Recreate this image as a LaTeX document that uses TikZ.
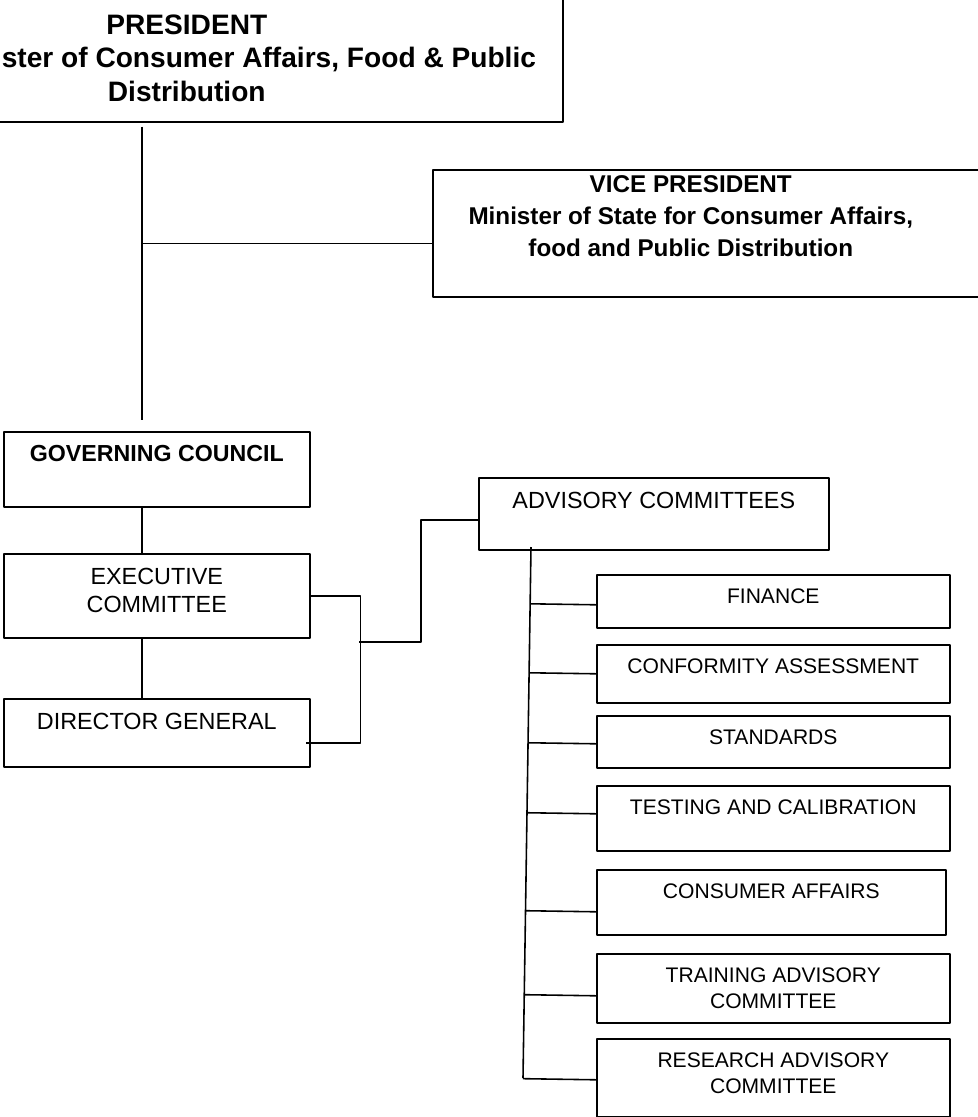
\documentclass[tikz,border=0pt]{standalone}
\usepackage{fontspec}
\setmainfont{Liberation Sans}
\usepackage{tikz}
\usetikzlibrary{calc}
\newcommand\pxu{0.02cm}
\tikzset{box/.style n args={2}{draw, anchor=north west, inner sep=0pt, minimum width=#1*\pxu, minimum height=#2*\pxu}}
\tikzset{t/.style={anchor=north, align=center, inner sep=0pt, yshift=-14*\pxu}}
\tikzset{top/.style={font=\bfseries\fontsize{16}{19}\selectfont}}
\tikzset{big/.style={font=\bfseries\fontsize{13.8}{18.1}\selectfont}}
\tikzset{gcf/.style={font=\bfseries\fontsize{13.2}{16}\selectfont}}
\tikzset{mid/.style={font=\fontsize{13.3}{15.9}\selectfont}}
\tikzset{sml/.style={font=\fontsize{12}{14.8}\selectfont}}

\begin{document}
\begin{tikzpicture}[x=\pxu, y=-\pxu, line width=.9pt, line join=round]
  \useasboundingbox (0,0) rectangle (978,1117);
  % top
  \node[box={752}{124}, label={[t,top,yshift=-3*\pxu]north:{PRESIDENT\\\hspace*{2.16cm}Minister of Consumer Affairs, Food \& Public\\Distribution}}] (pres) at (-190,-3) {};
  \node[box={568}{127}, label={[t,big,yshift=8*\pxu,xshift=-26*\pxu]north:{VICE PRESIDENT\\Minister of State for Consumer Affairs,\\food and Public Distribution}}] (vp) at (432,169) {};
  % left column
  \node[box={306}{75}, label={[t,gcf]north:GOVERNING COUNCIL}] (gc) at (3,431) {};
  \node[box={306}{84}, label={[t,mid]north:EXECUTIVE\\COMMITTEE}] (ec) at (3,553) {};
  \node[box={306}{68}, label={[t,mid]north:DIRECTOR GENERAL}] (dg) at (3,698) {};
  % committees
  \node[box={350}{72}, label={[t,mid]north:ADVISORY COMMITTEES}] (adv) at (478,477) {};
  \node[box={353}{53}, label={[t,sml]north:FINANCE}] (fin) at (596,574) {};
  \node[box={353}{58}, label={[t,sml]north:CONFORMITY ASSESSMENT}] (conf) at (596,644) {};
  \node[box={353}{52}, label={[t,sml]north:STANDARDS}] (std) at (596,715) {};
  \node[box={353}{65}, label={[t,sml]north:TESTING AND CALIBRATION}] (test) at (596,785) {};
  \node[box={349}{65}, label={[t,sml]north:CONSUMER AFFAIRS}] (cons) at (596,869) {};
  \node[box={353}{69}, label={[t,sml]north:TRAINING ADVISORY\\COMMITTEE}] (train) at (596,953) {};
  \node[box={353}{78}, label={[t,sml]north:RESEARCH ADVISORY\\COMMITTEE}] (res) at (596,1038) {};

  \coordinate (spine) at (142,0);
  \coordinate (brk) at (359,642);
  \coordinate (ttop) at (531,547);
  \coordinate (tbot) at (523,1078);

  % connectors
  \draw ($(pres.south -| spine)+(0,4)$) -- ($(gc.north -| spine)+(0,-11)$);
  \draw ($(vp.west -| spine)+(0,10)$) -- ($(vp.west)+(0,10)$);
  \draw (gc.south -| spine) -- (ec.north -| spine);
  \draw (ec.south -| spine) -- (dg.north -| spine);
  \draw (ec.east) -| ($(dg.east)+(50,10)$) -- ($(dg.east)+(-5,10)$);
  \draw (brk) -- ++(62,0) |- ($(adv.west)+(0,6)$);
  \draw (ttop) -- (tbot);
  \foreach \n/\dy in {fin/3.5, conf/0, std/2, test/-4.5, cons/9.5, train/7.5, res/2} {
    \coordinate (p) at ($(\n.west)+(0,\dy)$);
    \draw ($(ttop)!(p)!(tbot)$) -- (p);
  }
\end{tikzpicture}
\end{document}
